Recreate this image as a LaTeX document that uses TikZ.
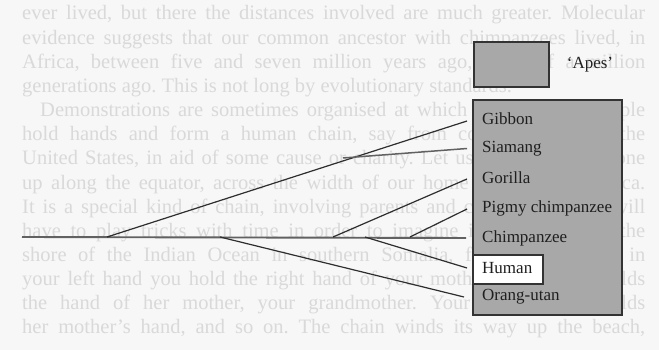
\documentclass[tikz,border=0pt]{standalone}
\usepackage{fontspec}
\setmainfont{Liberation Serif}
\begin{document}
\begin{tikzpicture}[x=1pt,y=-1pt,
  pagetext/.style={anchor=base west,inner sep=0pt,text=black!15,font=\fontsize{20.5}{23}\selectfont},
  apebox/.style={draw=black!80,line width=1.3pt,fill=black!34},
  humanbox/.style={draw=black!80,line width=1.3pt,fill=white},
  lbl/.style={anchor=west,inner sep=0pt,text=black!88,font=\fontsize{17}{20}\selectfont},
  trunk/.style={draw=black!62,line width=1.9pt},
  branch/.style={draw=black!82,line width=1.2pt}]
\useasboundingbox (0,0) rectangle (659,350);
\fill[black!3] (0,0) rectangle (659,350);
% faint page text behind the figure
\foreach \i/\t/\j in {
 1/{ever lived, but there the distances involved are much greater. Molecular}/s,
 2/{evidence suggests that our common ancestor with chimpanzees lived, in}/s,
 3/{Africa, between five and seven million years ago, say half a million}/s,
 4/{generations ago. This is not long by evolutionary standards.}/l,
 5/{\hspace*{18pt}Demonstrations are sometimes organised at which thousands of people}/s,
 6/{hold hands and form a human chain, say from coast to coast of the}/s,
 7/{United States, in aid of some cause or charity. Let us imagine setting one}/s,
 8/{up along the equator, across the width of our home continent of Africa.}/s,
 9/{It is a special kind of chain, involving parents and children, and we will}/s,
 10/{have to play tricks with time in order to imagine it. You stand on the}/s,
 11/{shore of the Indian Ocean in southern Somalia, facing north, and in}/s,
 12/{your left hand you hold the right hand of your mother. In turn she holds}/s,
 13/{the hand of her mother, your grandmother. Your grandmother holds}/s,
 14/{her mother's hand, and so on. The chain winds its way up the beach,}/s}
 {\node[pagetext] (t\i) at (22,{20+24.15*(\i-1)}) {\makebox[623pt][\j]{\frenchspacing\t}};}
% legend
\draw[apebox] (474,42) rectangle (549,87);
\node[lbl,anchor=center] (apes) at (590,65) {`Apes'};
% big box with Human notch
\draw[apebox] (473,100) rectangle (622,315);
\draw[humanbox] (473,255) rectangle (543,284);
% labels
\node[lbl] (gib) at (482,119) {Gibbon};
\node[lbl] (sia) at (482,148.5) {Siamang};
\node[lbl] (gor) at (482,178) {Gorilla};
\node[lbl] (pig) at (482,208) {Pigmy chimpanzee};
\node[lbl] (chi) at (482,238) {Chimpanzee};
\node[lbl] (hum) at (482,268) {Human};
\node[lbl] (ora) at (482,297) {Orang-utan};
% tree junctions
\coordinate (root) at (22,237);
\coordinate (jA) at (107,237);
\coordinate (jO) at (220,237);
\coordinate (jG) at (333,237);
\coordinate (jH) at (365,237);
\coordinate (jP) at (410,237);
\coordinate (jS) at (343,158);
% connectors
\draw[trunk] (root) -- ([xshift=-16pt]chi.west);
\draw[branch] (jA) -- ([xshift=-15pt,yshift=-2pt]gib.west);
\draw[trunk,line width=1.5pt] (jS) -- ([xshift=-15pt]sia.west);
\draw[branch] (jG) -- ([xshift=-15pt,yshift=-1pt]gor.west);
\draw[branch] (jP) -- ([xshift=-15pt,yshift=-1pt]pig.west);
\draw[branch] (jH) -- ([xshift=-15pt]hum.west);
\draw[branch] (jO) -- ([xshift=-18pt]ora.west);
\end{tikzpicture}
\end{document}
